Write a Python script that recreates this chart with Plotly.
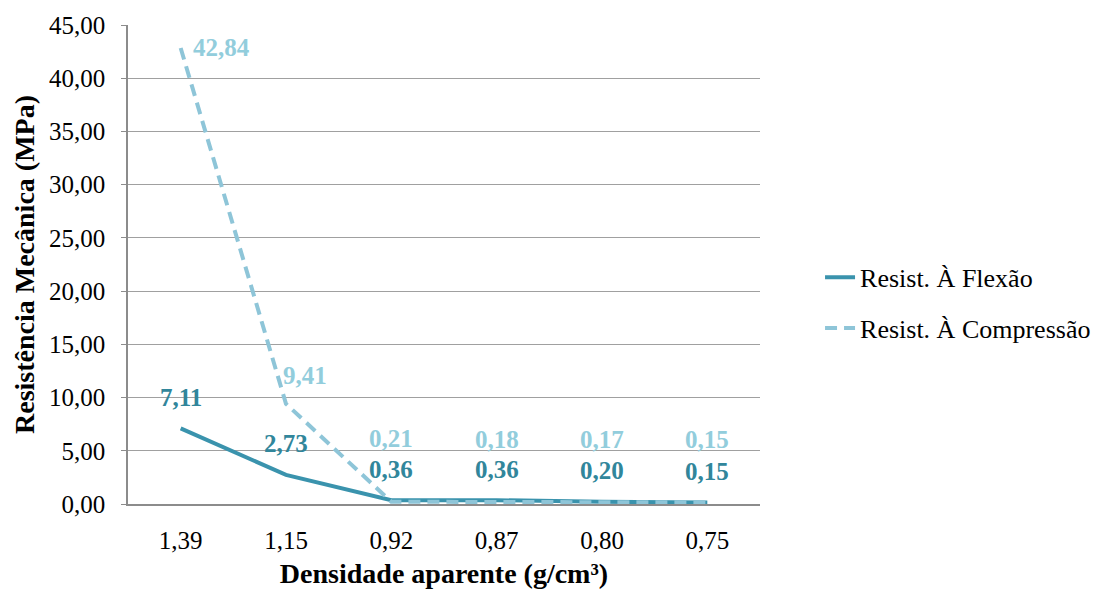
import plotly.graph_objects as go

# Apparent density categories (x axis) and strength values in MPa
densidade = ["1,39", "1,15", "0,92", "0,87", "0,80", "0,75"]
flexao = [7.11, 2.73, 0.36, 0.36, 0.20, 0.15]
compressao = [42.84, 9.41, 0.21, 0.18, 0.17, 0.15]
y_ticks = [0, 5, 10, 15, 20, 25, 30, 35, 40, 45]

COR_FLEX = "#3a93ad"
COR_COMP = "#8ec5d8"
COR_FLEX_TXT = "#31869b"
COR_COMP_TXT = "#92cddc"
FONTE = "Times New Roman, Liberation Serif, DejaVu Serif, serif"


def br(v):
    return f"{v:.2f}".replace(".", ",")


fig = go.Figure()
fig.add_trace(go.Scatter(
    x=densidade, y=flexao, mode="lines", name="Resist. À Flexão",
    line=dict(color=COR_FLEX, width=4), legendgroup="a",
))
fig.add_trace(go.Scatter(
    x=densidade, y=compressao, mode="lines", name="Resist. À Compressão",
    line=dict(color=COR_COMP, width=4, dash="12px,7px"), legendgroup="b",
))

# value labels
for cat, v in zip(densidade, flexao):
    fig.add_annotation(x=cat, y=v, text=f"<b>{br(v)}</b>", showarrow=False,
                       yshift=31, borderpad=0,
                       font=dict(family=FONTE, size=25, color=COR_FLEX_TXT))
for i, (cat, v) in enumerate(zip(densidade, compressao)):
    if i == 0:
        xs, ys = 41, 0
    elif i == 1:
        xs, ys = 19, 28
    else:
        xs, ys = 0, 63
    fig.add_annotation(x=cat, y=v, text=f"<b>{br(v)}</b>", showarrow=False,
                       xshift=xs, yshift=ys, borderpad=0,
                       font=dict(family=FONTE, size=25, color=COR_COMP_TXT))

fig.update_layout(
    width=1108, height=589,
    margin=dict(l=128, r=348, t=25, b=85),
    paper_bgcolor="white", plot_bgcolor="white",
    font=dict(family=FONTE, size=24, color="black"),
    legend=dict(x=1.095, xanchor="left", y=0.42, yanchor="middle",
                font=dict(family=FONTE, size=26, color="black"),
                tracegroupgap=14, bgcolor="rgba(0,0,0,0)"),
    xaxis=dict(
        type="category", range=[-0.5, 5.5], showgrid=False, automargin=False,
        showline=True, linecolor="#8c8c8c", linewidth=1.5,
        ticks="", tickfont=dict(family=FONTE, size=25, color="black"), ticklabelstandoff=13,
        title=dict(text="<b>Densidade aparente (g/cm³)</b>",
                   font=dict(family=FONTE, size=28, color="black"), standoff=17),
    ),
    yaxis=dict(
        range=[0, 45], tickvals=y_ticks, ticktext=[br(t) for t in y_ticks],
        showgrid=True, gridcolor="#a0a0a0", gridwidth=1.2, automargin=False,
        showline=True, linecolor="#8c8c8c", linewidth=1.5,
        ticks="outside", ticklen=5, tickcolor="#8c8c8c", ticklabelstandoff=11,
        tickfont=dict(family=FONTE, size=25, color="black"), zeroline=False,
        title=dict(text="<b>Resistência Mecânica (MPa)</b>",
                   font=dict(family=FONTE, size=28, color="black"), standoff=6),
    ),
)

fig.write_html("out.html")
